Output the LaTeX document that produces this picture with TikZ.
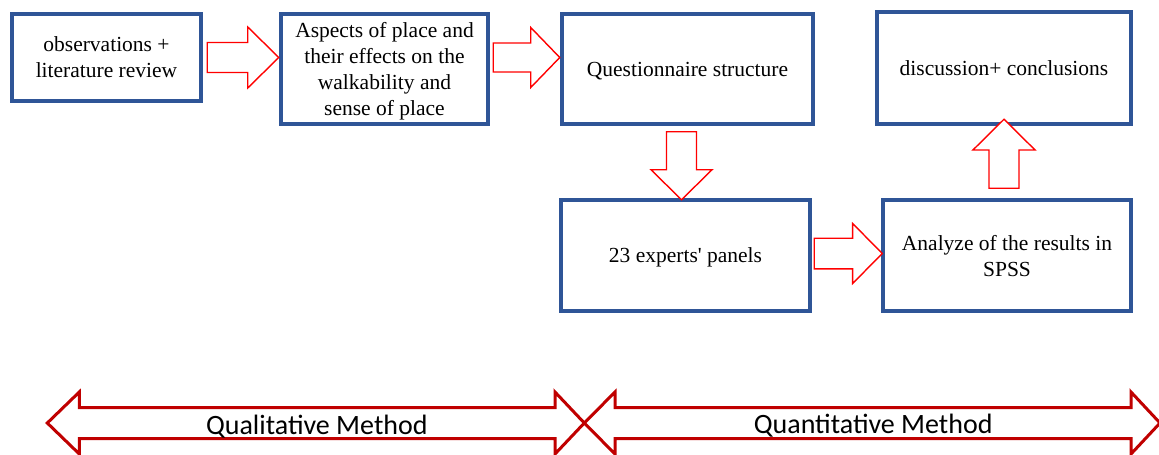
\documentclass[tikz,border=0pt]{standalone}
\usepackage{fontspec}
\usepackage{tikz}
\usetikzlibrary{calc}

\newfontfamily\boxfont{Liberation Serif}
\newfontfamily\methodfont{Carlito}

\definecolor{boxblue}{RGB}{47,85,151}
\definecolor{methodred}{RGB}{192,0,0}

\tikzset{
  stagebox/.style={draw=boxblue, line width=4.5pt, fill=white, align=center, inner sep=0pt,
    text depth=-5pt, font=\boxfont\fontsize{21.5}{26}\selectfont},
  blockarrow/.style={draw=red, line width=1.4pt, fill=white},
  methodarrow/.style={draw=methodred, line width=3pt},
  methodlabel/.style={inner sep=0pt, font=\methodfont\fontsize{28}{30}\selectfont}
}

% #1 tail, #2 tip, #3 half shaft, #4 half head, #5 head length
\newcommand{\fatarrow}[5]{%
  \coordinate (fa-h) at ($(#2)!#5!(#1)$);
  \draw[blockarrow] ($(#1)!#3!90:(#2)$) -- ($(fa-h)!#3!90:(#2)$) -- ($(fa-h)!#4!90:(#2)$) -- (#2)
    -- ($(fa-h)!#4!-90:(#2)$) -- ($(fa-h)!#3!-90:(#2)$) -- ($(#1)!#3!-90:(#2)$) -- cycle;}

\begin{document}
\begin{tikzpicture}[x=1pt,y=1pt,yscale=-1]
\useasboundingbox (0,0) rectangle (1159,455);

% stages
\node[stagebox, minimum width=189, minimum height=87] (obs) at (106.5,57.5) {observations +\\ literature review};
\node[stagebox, minimum width=207, minimum height=110] (asp) at (384.5,69) {Aspects of place and\\ their effects on the\\ walkability and\\ sense of place};
\node[stagebox, minimum width=251, minimum height=110] (ques) at (687.5,69) {Questionnaire structure};
\node[stagebox, minimum width=254, minimum height=112] (dis) at (1004,68) {discussion+ conclusions};
\node[stagebox, minimum width=249, minimum height=111] (exp) at (685.5,255.5) {23 experts' panels};
\node[stagebox, minimum width=248, minimum height=111] (ana) at (1007,255.5) {Analyze of the results in\\ SPSS};

% block arrows
\coordinate (a1s) at ($(obs.east)+(4,0)$);
\coordinate (a1e) at (obs.east -| asp.west);
\fatarrow{a1s}{a1e}{15pt}{30.5pt}{31pt}
\coordinate (a2s) at ($(obs.east -| asp.east)+(3,0)$);
\coordinate (a2e) at (obs.east -| ques.west);
\fatarrow{a2s}{a2e}{14.5pt}{30pt}{29pt}
\coordinate (a3s) at ($(ques.south)+(-6,5.5)$);
\coordinate (a3e) at ($(a3s |- exp.north)+(0,2)$);
\fatarrow{a3s}{a3e}{15pt}{30.5pt}{30pt}
\coordinate (a4s) at ($(exp.east)+(2,-2)$);
\coordinate (a4e) at ($(a4s -| ana.west)+(1.5,0)$);
\fatarrow{a4s}{a4e}{15.3pt}{30pt}{29.6pt}
\coordinate (a5s) at ($(dis.south)+(0,62)$);
\coordinate (a5e) at ($(dis.south)+(0,-7)$);
\fatarrow{a5s}{a5e}{15pt}{31pt}{30.7pt}

% method spans
\coordinate (qlL) at (47.3,423);
\coordinate (qlR) at (584.3,423);
\coordinate (qnL) at (584.3,423);
\coordinate (qnR) at (1160,423);
\draw[methodarrow] (qlL) -- ++(32,-31) -- ++(0,15.5) -- ($(qlR)+(-29.3,-15.5)$) -- ++(0,-15.5) -- (qlR)
  -- ++(-29.3,31) -- ++(0,-15.5) -- ($(qlL)+(32,15.5)$) -- ++(0,15.5) -- cycle;
\draw[methodarrow] (qnL) -- ++(30.7,-31) -- ++(0,15.5) -- ($(qnR)+(-29,-15.5)$) -- ++(0,-15.5) -- (qnR)
  -- ++(-29,31) -- ++(0,-15.5) -- ($(qnL)+(30.7,15.5)$) -- ++(0,15.5) -- cycle;
\node[methodlabel] (qual) at ($(qlL)!.5!(qlR)+(1,4)$) {Qualitative Method};
\node[methodlabel] (quan) at ($(qnL)!.5!(qnR)+(1,3)$) {Quantitative Method};

\end{tikzpicture}
\end{document}
